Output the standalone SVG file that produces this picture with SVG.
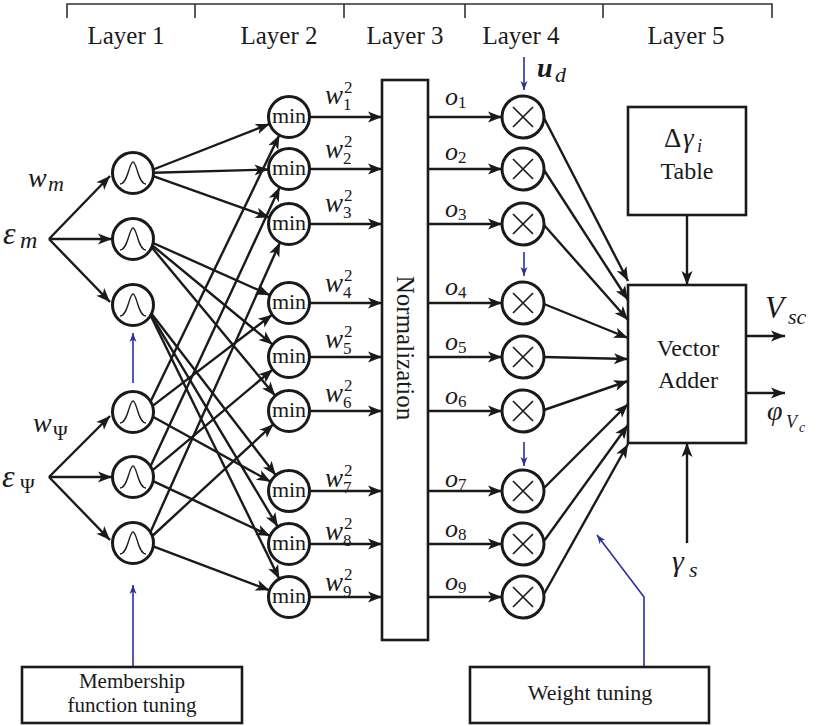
<svg xmlns="http://www.w3.org/2000/svg" xmlns:xlink="http://www.w3.org/1999/xlink" width="820" height="726" viewBox="0 0 820 726">
<style>
.ln{stroke:#1a1a1a;stroke-width:2.4;fill:none;marker-end:url(#ah)}
.bl{stroke:#2b2f9b;stroke-width:1.6;fill:none;marker-end:url(#bh)}
.nd{fill:#fff;stroke:#1a1a1a;stroke-width:3}
.box{fill:#fff;stroke:#1a1a1a;stroke-width:2.6}
.bell{fill:none;stroke:#1a1a1a;stroke-width:1.3}
.x{stroke:#1a1a1a;stroke-width:1.7}
text{fill:#1a1a1a;font-family:'Liberation Serif','Times New Roman',serif}
.i{font-style:italic}
.mn{font-size:22px;text-anchor:middle}
.lay{font-size:25px;text-anchor:middle}
.w{font-size:27px;font-style:italic}
.o{font-size:26px;font-style:italic}
.sb{font-size:17px}
</style>
<defs>
<marker id="ah" viewBox="-15 -7 16 14" refX="0" refY="0" markerWidth="16" markerHeight="14" markerUnits="userSpaceOnUse" orient="auto"><path d="M0,0 L-14,-5.5 L-10.5,0 L-14,5.5 Z" fill="#1a1a1a"/></marker>
<marker id="bh" viewBox="-10 -5 11 10" refX="0" refY="0" markerWidth="11" markerHeight="10" markerUnits="userSpaceOnUse" orient="auto"><path d="M0,0 L-9,-3.5 L-6.5,0 L-9,3.5 Z" fill="#2b2f9b"/></marker>
<g id="gauss"><circle class="nd" r="20.5"/><path class="bell" d="M-13,11 C-5,11 -4,-11 0,-11 C4,-11 5,11 13,11"/></g>
<g id="prod"><circle class="nd" r="21"/><path class="x" d="M-10,-10 L10,10 M10,-10 L-10,10"/></g>
<g id="minn"><circle class="nd" r="20.5"/><text class="mn" y="6">min</text></g>
</defs>

<g id="layers" stroke="#333" stroke-width="1.6" fill="none">
<path d="M67,18 V4 H772 V18 M195,4 V18 M344,4 V18 M465,4 V18 M603,4 V18"/>
</g>
<g id="layer-labels">
<text class="lay" x="126" y="44">Layer 1</text>
<text class="lay" x="279" y="44">Layer 2</text>
<text class="lay" x="405" y="44">Layer 3</text>
<text class="lay" x="521" y="44">Layer 4</text>
<text class="lay" x="686" y="44">Layer 5</text>
</g>

<g id="connectors">
<line class="ln" x1="49" y1="239" x2="110" y2="176"/>
<line class="ln" x1="49" y1="239" x2="112" y2="239"/>
<line class="ln" x1="49" y1="239" x2="110" y2="302"/>
<line class="ln" x1="49" y1="477" x2="110" y2="416"/>
<line class="ln" x1="49" y1="477" x2="112" y2="477"/>
<line class="ln" x1="49" y1="477" x2="110" y2="540"/>
<line class="ln" x1="153.2" y1="169.5" x2="269.7" y2="123.9"/>
<line class="ln" x1="153.5" y1="172.7" x2="268.5" y2="169.5"/>
<line class="ln" x1="153.2" y1="176.2" x2="269.5" y2="217.6"/>
<line class="ln" x1="153.1" y1="243.0" x2="270.0" y2="295.2"/>
<line class="ln" x1="152.4" y1="245.5" x2="272.7" y2="344.6"/>
<line class="ln" x1="151.7" y1="247.3" x2="275.2" y2="395.8"/>
<line class="ln" x1="151.6" y1="313.7" x2="275.8" y2="475.3"/>
<line class="ln" x1="151.0" y1="314.8" x2="277.8" y2="526.8"/>
<line class="ln" x1="150.6" y1="315.5" x2="279.3" y2="578.9"/>
<line class="ln" x1="150.6" y1="401.4" x2="279.4" y2="135.1"/>
<line class="ln" x1="152.6" y1="405.9" x2="272.2" y2="314.7"/>
<line class="ln" x1="152.9" y1="416.8" x2="270.7" y2="481.7"/>
<line class="ln" x1="150.5" y1="466.3" x2="279.7" y2="187.3"/>
<line class="ln" x1="152.4" y1="470.4" x2="272.7" y2="369.5"/>
<line class="ln" x1="153.1" y1="481.1" x2="270.2" y2="535.9"/>
<line class="ln" x1="150.4" y1="532.2" x2="280.0" y2="242.4"/>
<line class="ln" x1="152.3" y1="536.0" x2="273.4" y2="424.2"/>
<line class="ln" x1="153.2" y1="546.4" x2="269.6" y2="590.3"/>
<line class="ln" x1="310" y1="117" x2="382" y2="117"/>
<line class="ln" x1="310" y1="169" x2="382" y2="169"/>
<line class="ln" x1="310" y1="224" x2="382" y2="224"/>
<line class="ln" x1="310" y1="303" x2="382" y2="303"/>
<line class="ln" x1="310" y1="357" x2="382" y2="357"/>
<line class="ln" x1="310" y1="411" x2="382" y2="411"/>
<line class="ln" x1="310" y1="491" x2="382" y2="491"/>
<line class="ln" x1="310" y1="544" x2="382" y2="544"/>
<line class="ln" x1="310" y1="597" x2="382" y2="597"/>
<line class="ln" x1="428" y1="117" x2="502" y2="117"/>
<line class="ln" x1="428" y1="169" x2="502" y2="169"/>
<line class="ln" x1="428" y1="224" x2="502" y2="224"/>
<line class="ln" x1="428" y1="303" x2="502" y2="303"/>
<line class="ln" x1="428" y1="357" x2="502" y2="357"/>
<line class="ln" x1="428" y1="411" x2="502" y2="411"/>
<line class="ln" x1="428" y1="491" x2="502" y2="491"/>
<line class="ln" x1="428" y1="544" x2="502" y2="544"/>
<line class="ln" x1="428" y1="597" x2="502" y2="597"/>
<line class="ln" x1="544" y1="118" x2="628" y2="281"/>
<line class="ln" x1="544" y1="170" x2="628" y2="300"/>
<line class="ln" x1="544" y1="225" x2="628" y2="320"/>
<line class="ln" x1="544" y1="304" x2="628" y2="338"/>
<line class="ln" x1="544" y1="357" x2="628" y2="359"/>
<line class="ln" x1="544" y1="410" x2="628" y2="381"/>
<line class="ln" x1="544" y1="488" x2="628" y2="404"/>
<line class="ln" x1="544" y1="541" x2="628" y2="425"/>
<line class="ln" x1="544" y1="594" x2="628" y2="444"/>
<line class="ln" x1="687" y1="215" x2="687" y2="285"/>
<line class="ln" x1="687" y1="543" x2="687" y2="443"/>
<line class="ln" x1="746" y1="336" x2="785" y2="336"/>
<line class="ln" x1="746" y1="393" x2="785" y2="393"/>
<line class="bl" x1="133" y1="383" x2="133" y2="333"/>
<line class="bl" x1="133" y1="667" x2="133" y2="585"/>
<polyline class="bl" points="644,667 644,597 597,535"/>
<line class="bl" x1="524" y1="57" x2="524" y2="90"/>
<line class="bl" x1="524" y1="252" x2="524" y2="276"/>
<line class="bl" x1="524" y1="442" x2="524" y2="466"/>
</g>

<g id="inputs">
<text class="i" x="28" y="187" font-size="28">w</text><text class="i" x="48" y="191" font-size="22">m</text>
<text class="i" x="3" y="244" font-size="32">ε</text><text class="i" x="20" y="248" font-size="24">m</text>
<text class="i" x="33" y="432" font-size="28">w</text><text x="53" y="440" font-size="20">Ψ</text>
<text class="i" x="2" y="487" font-size="32">ε</text><text x="20" y="493" font-size="20">Ψ</text>
</g>

<g id="mf1"><use xlink:href="#gauss" x="133" y="173"/></g>
<g id="mf2"><use xlink:href="#gauss" x="133" y="239"/></g>
<g id="mf3"><use xlink:href="#gauss" x="133" y="305"/></g>
<g id="mf4"><use xlink:href="#gauss" x="133" y="412"/></g>
<g id="mf5"><use xlink:href="#gauss" x="133" y="477"/></g>
<g id="mf6"><use xlink:href="#gauss" x="133" y="543"/></g>

<g id="min1"><use xlink:href="#minn" x="289" y="117"/></g>
<g id="min2"><use xlink:href="#minn" x="289" y="169"/></g>
<g id="min3"><use xlink:href="#minn" x="289" y="224"/></g>
<g id="min4"><use xlink:href="#minn" x="289" y="303"/></g>
<g id="min5"><use xlink:href="#minn" x="289" y="357"/></g>
<g id="min6"><use xlink:href="#minn" x="289" y="411"/></g>
<g id="min7"><use xlink:href="#minn" x="289" y="491"/></g>
<g id="min8"><use xlink:href="#minn" x="289" y="544"/></g>
<g id="min9"><use xlink:href="#minn" x="289" y="597"/></g>

<g id="w-labels">
<text class="w" x="325" y="104">w</text><text class="sb" x="344" y="93">2</text><text class="sb" x="343" y="110">1</text>
<text class="w" x="325" y="158">w</text><text class="sb" x="344" y="147">2</text><text class="sb" x="343" y="164">2</text>
<text class="w" x="325" y="212">w</text><text class="sb" x="344" y="201">2</text><text class="sb" x="343" y="218">3</text>
<text class="w" x="325" y="292">w</text><text class="sb" x="344" y="281">2</text><text class="sb" x="343" y="298">4</text>
<text class="w" x="325" y="348">w</text><text class="sb" x="344" y="337">2</text><text class="sb" x="343" y="354">5</text>
<text class="w" x="325" y="402">w</text><text class="sb" x="344" y="391">2</text><text class="sb" x="343" y="408">6</text>
<text class="w" x="325" y="487">w</text><text class="sb" x="344" y="476">2</text><text class="sb" x="343" y="493">7</text>
<text class="w" x="325" y="540">w</text><text class="sb" x="344" y="529">2</text><text class="sb" x="343" y="546">8</text>
<text class="w" x="325" y="591">w</text><text class="sb" x="344" y="580">2</text><text class="sb" x="343" y="597">9</text>
</g>

<g id="normalization">
<rect class="box" x="382" y="80" width="46" height="560"/>
<text font-size="25" text-anchor="middle" transform="translate(397,348) rotate(90)">Normalization</text>
</g>

<g id="o-labels">
<text class="o" x="445" y="105">o</text><text class="sb" x="458" y="108">1</text>
<text class="o" x="445" y="160">o</text><text class="sb" x="458" y="163">2</text>
<text class="o" x="445" y="217">o</text><text class="sb" x="458" y="220">3</text>
<text class="o" x="445" y="295">o</text><text class="sb" x="458" y="298">4</text>
<text class="o" x="445" y="350">o</text><text class="sb" x="458" y="353">5</text>
<text class="o" x="445" y="404">o</text><text class="sb" x="458" y="407">6</text>
<text class="o" x="445" y="487">o</text><text class="sb" x="458" y="490">7</text>
<text class="o" x="445" y="537">o</text><text class="sb" x="458" y="540">8</text>
<text class="o" x="445" y="590">o</text><text class="sb" x="458" y="593">9</text>
</g>

<g id="prod1"><use xlink:href="#prod" x="523" y="117"/></g>
<g id="prod2"><use xlink:href="#prod" x="523" y="169"/></g>
<g id="prod3"><use xlink:href="#prod" x="523" y="224"/></g>
<g id="prod4"><use xlink:href="#prod" x="523" y="303"/></g>
<g id="prod5"><use xlink:href="#prod" x="523" y="357"/></g>
<g id="prod6"><use xlink:href="#prod" x="523" y="411"/></g>
<g id="prod7"><use xlink:href="#prod" x="523" y="491"/></g>
<g id="prod8"><use xlink:href="#prod" x="523" y="544"/></g>
<g id="prod9"><use xlink:href="#prod" x="523" y="597"/></g>

<g id="ud-label">
<text x="537" y="77" font-size="28" font-weight="bold" font-style="italic">u</text><text x="555" y="82" font-size="22" font-style="italic">d</text>
</g>

<g id="table">
<rect class="box" x="628" y="107" width="118" height="108"/>
<text y="147" font-size="27"><tspan x="664">Δ</tspan><tspan x="683" font-style="italic">γ</tspan><tspan x="697" y="152" font-size="18" font-style="italic">i</tspan></text>
<text x="687" y="179" font-size="24" text-anchor="middle">Table</text>
</g>

<g id="adder">
<rect class="box" x="628" y="285" width="118" height="158"/>
<text x="688" y="356" font-size="24" text-anchor="middle">Vector</text>
<text x="688" y="388" font-size="24" text-anchor="middle">Adder</text>
</g>

<g id="outputs">
<text class="i" x="765" y="318" font-size="31">V</text><text class="i" x="788" y="324" font-size="22">sc</text>
<text class="i" x="767" y="420" font-size="28">φ</text><text class="i" x="786" y="428" font-size="18">V</text><text class="i" x="799" y="432" font-size="14">c</text>
<text class="i" x="672" y="571" font-size="30">γ</text><text class="i" x="689" y="577" font-size="22">s</text>
</g>

<g id="mf-tuning">
<rect class="box" x="22" y="667" width="220" height="56" stroke-width="2.2"/>
<text x="132" y="688" font-size="21" text-anchor="middle">Membership</text>
<text x="132" y="712" font-size="21" text-anchor="middle">function tuning</text>
</g>

<g id="weight-tuning">
<rect class="box" x="470" y="667" width="239" height="56" stroke-width="2.2"/>
<text x="590" y="700" font-size="22" text-anchor="middle">Weight tuning</text>
</g>
</svg>
